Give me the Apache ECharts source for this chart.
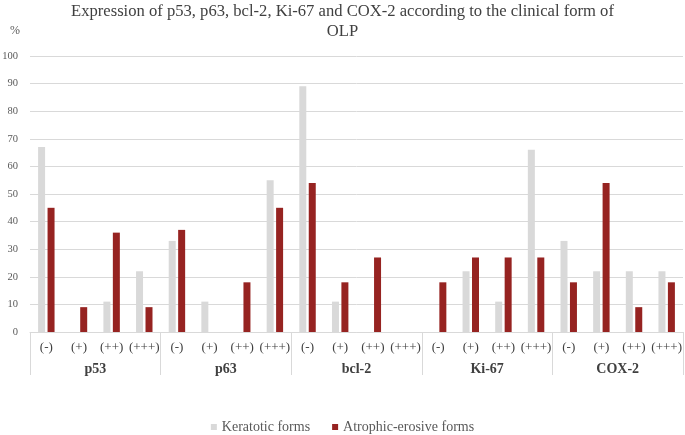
<!DOCTYPE html>
<html>
<head>
<meta charset="utf-8">
<script src="https://cdn.jsdelivr.net/npm/echarts@6/dist/echarts.min.js"></script>
<style>html,body{margin:0;padding:0;background:#fff}#c{width:685px;height:435px}</style>
</head>
<body>
<div id="c"></div>
<script>
const markers = ["p53", "p63", "bcl-2", "Ki-67", "COX-2"];
const grades = ["(-)", "(+)", "(++)", "(+++)"];
const keratotic = [67, 0, 11, 22,  33, 11, 0, 55,  89, 11, 0, 0,  0, 22, 11, 66,  33, 22, 22, 22];
const atrophic  = [45, 9, 36, 9,   37, 0, 18, 45,  54, 18, 27, 0,  18, 27, 27, 27,  18, 54, 9, 18];
const yTicks = { min: 0, max: 100, interval: 10 };

const cats = [];
markers.forEach(m => grades.forEach(g => cats.push(m + "|" + g)));

const serif = "'Liberation Serif', 'Times New Roman', serif";
const chart = echarts.init(document.getElementById('c'), null, {renderer: 'canvas'});
chart.setOption({
  animation: false,
  textStyle: { fontFamily: serif },
  title: [
    { text: "Expression of p53, p63, bcl-2, Ki-67 and COX-2 according to the clinical form of\nOLP",
      left: 'center', top: -3,
      textStyle: { fontFamily: serif, fontSize: 16.6, fontWeight: 'normal', color: '#404040', lineHeight: 20 } },
    { text: "%", left: 5, top: 20,
      textStyle: { fontFamily: serif, fontSize: 12, fontWeight: 'normal', color: '#595959' } }
  ],
  legend: {
    top: 415, left: 'center', icon: 'rect', itemWidth: 6, itemHeight: 6, itemGap: 22, itemStyle: { borderWidth: 0 },
    textStyle: { fontFamily: serif, fontSize: 14, color: '#595959' }
  },
  grid: { left: 30, right: 2, top: 56, bottom: 103, containLabel: false, outerBoundsMode: 'none' },
  xAxis: [
    { type: 'category', data: cats, position: 'bottom',
      axisLine: { lineStyle: { color: '#d9d9d9' } },
      axisTick: { show: false },
      axisLabel: { interval: 0, margin: 9, fontFamily: serif, fontSize: 13, color: '#404040',
        formatter: v => v.split('|')[1] } },
    { type: 'category', data: markers, position: 'bottom', gridIndex: 0,
      axisLine: { show: false },
      axisTick: { show: true, length: 43, interval: 0, lineStyle: { color: '#d9d9d9' } },
      axisLabel: { interval: 0, margin: 30, fontFamily: serif, fontSize: 14, fontWeight: 'bold', color: '#404040' } }
  ],
  yAxis: {
    type: 'value', min: yTicks.min, max: yTicks.max, interval: yTicks.interval,
    axisLine: { show: false }, axisTick: { show: false },
    axisLabel: { margin: 12, fontFamily: serif, fontSize: 10.5, color: '#595959' },
    splitLine: { lineStyle: { color: '#d9d9d9', width: 1 } }
  },
  series: [
    { name: 'Keratotic forms', type: 'bar', xAxisIndex: 0, data: keratotic,
      barWidth: 7, barGap: '35%', itemStyle: { color: '#d9d9d9' } },
    { name: 'Atrophic-erosive forms', type: 'bar', xAxisIndex: 0, data: atrophic,
      barWidth: 7, itemStyle: { color: '#962321' } }
  ]
});
</script>
</body>
</html>
